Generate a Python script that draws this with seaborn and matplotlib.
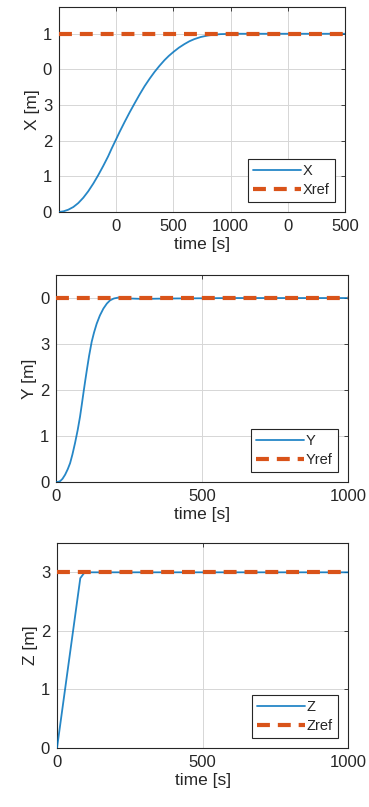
import matplotlib
matplotlib.use("Agg")
import matplotlib.pyplot as plt
import seaborn as sns
import pandas as pd

# X response (time in s, position in m)
x_time = [0, 40, 81, 125, 168, 212, 255, 300, 342, 386, 429, 460, 493, 530, 574,
          618, 661, 705, 748, 792, 835, 878, 922, 960, 1000, 1048, 1096, 1140, 1183,
          1240, 1299, 1356, 1414, 1530, 1800, 2200, 2500]
x_pos = [0.0, 0.02, 0.065, 0.14, 0.25, 0.4, 0.58, 0.80, 1.03, 1.29, 1.56, 1.78, 2.0,
         2.25, 2.53, 2.8, 3.05, 3.3, 3.53, 3.74, 3.93, 4.1, 4.26, 4.38, 4.49,
         4.61, 4.71, 4.79, 4.85, 4.91, 4.95, 4.975, 4.99, 5.0, 5.0, 5.0, 5.0]
x_ref_time = [0, 2500]
x_ref = [5.0, 5.0]
x_ticks = [500, 1000, 1500, 2000, 2500]
x_ticklabels = ["0", "500", "1000", "0", "500"]
x_yticks = [0, 1, 2, 3, 4, 5]
x_yticklabels = ["0", "1", "2", "3", "0", "1"]

# Y response
y_time = [0, 8, 14, 22, 31, 40, 48, 56, 65, 74, 82, 88, 94, 100, 106, 113, 122, 130,
          139, 150, 162, 174, 185, 198, 213, 233, 253, 275, 299, 340, 400, 600, 1000]
y_pos = [0.0, 0.005, 0.02, 0.07, 0.16, 0.28, 0.41, 0.6, 0.85, 1.13, 1.42, 1.68, 1.95,
         2.21, 2.46, 2.74, 3.05, 3.25, 3.44, 3.62, 3.77, 3.88, 3.95, 3.99, 4.01, 4.0,
         3.99, 3.985, 3.98, 3.985, 3.99, 4.0, 4.0]
y_ref_time = [0, 1000]
y_ref = [4.0, 4.0]
y_ticks = [0, 500, 1000]
y_yticks = [0, 1, 2, 3, 4]
y_yticklabels = ["0", "1", "2", "3", "0"]

# Z response
z_time = [0, 80, 95, 110, 1000]
z_pos = [0.0, 2.9, 3.0, 3.0, 3.0]
z_ref_time = [0, 1000]
z_ref = [3.0, 3.0]
z_ticks = [0, 500, 1000]
z_yticks = [0, 1, 2, 3]

BLUE = "#0072BD"
ORANGE = "#D95319"

sns.set_theme(style="white")
plt.rcParams["font.family"] = ["Liberation Sans", "DejaVu Sans"]

fig = plt.figure(figsize=(3.69, 8.07), dpi=100)

panels = [
    dict(rect=[0.160, 0.7373, 0.775, 0.254], t=x_time, v=x_pos, rt=x_ref_time, rv=x_ref,
         name="X", xlim=(0, 2500), ylim=(0, 5.75), xt=x_ticks, xtl=x_ticklabels,
         yt=x_yticks, ytl=x_yticklabels),
    dict(rect=[0.152, 0.4027, 0.791, 0.2565], t=y_time, v=y_pos, rt=y_ref_time, rv=y_ref,
         name="Y", xlim=(0, 1000), ylim=(0, 4.5), xt=y_ticks, xtl=[str(t) for t in y_ticks],
         yt=y_yticks, ytl=y_yticklabels),
    dict(rect=[0.1545, 0.0731, 0.789, 0.254], t=z_time, v=z_pos, rt=z_ref_time, rv=z_ref,
         name="Z", xlim=(0, 1000), ylim=(0, 3.5), xt=z_ticks, xtl=[str(t) for t in z_ticks],
         yt=z_yticks, ytl=[str(t) for t in z_yticks]),
]

for p in panels:
    ax = fig.add_axes(p["rect"])
    df = pd.DataFrame({"t": p["t"], "v": p["v"]})
    dref = pd.DataFrame({"t": p["rt"], "v": p["rv"]})
    sns.lineplot(data=df, x="t", y="v", ax=ax, color=BLUE, lw=1.3, label=p["name"],
                 zorder=3, alpha=0.85)
    sns.lineplot(data=dref, x="t", y="v", ax=ax, color=ORANGE, lw=3.0,
                 linestyle=(0, (3.1, 1.9)), label=p["name"] + "ref", zorder=4)
    ax.set_xlim(*p["xlim"])
    ax.set_ylim(*p["ylim"])
    ax.set_xticks(p["xt"])
    ax.set_xticklabels(p["xtl"])
    ax.set_yticks(p["yt"])
    ax.set_yticklabels(p["ytl"])
    ax.grid(True, color="#D6D6D6", lw=0.7)
    ax.set_axisbelow(True)
    for s in ax.spines.values():
        s.set_color("#262626")
        s.set_linewidth(0.8)
    ax.tick_params(direction="in", length=3, width=0.6, colors="#262626",
                   labelsize=12, top=True, right=True, pad=5)
    ax.set_xlabel("time [s]", fontsize=12.5, color="#262626", labelpad=2)
    ax.set_ylabel(f"{p['name']} [m]", fontsize=12.5, color="#262626", labelpad=2)
    leg = ax.legend(loc="lower right", fontsize=10.5, frameon=True, fancybox=False,
                    edgecolor="#262626", framealpha=1, handlelength=3.3,
                    handletextpad=0.1, borderpad=0.35, labelspacing=0.3,
                    borderaxespad=0.7)
    leg.get_frame().set_linewidth(0.8)
    for txt in leg.get_texts():
        txt.set_color("#262626")

fig.savefig("out.png", dpi=100)
